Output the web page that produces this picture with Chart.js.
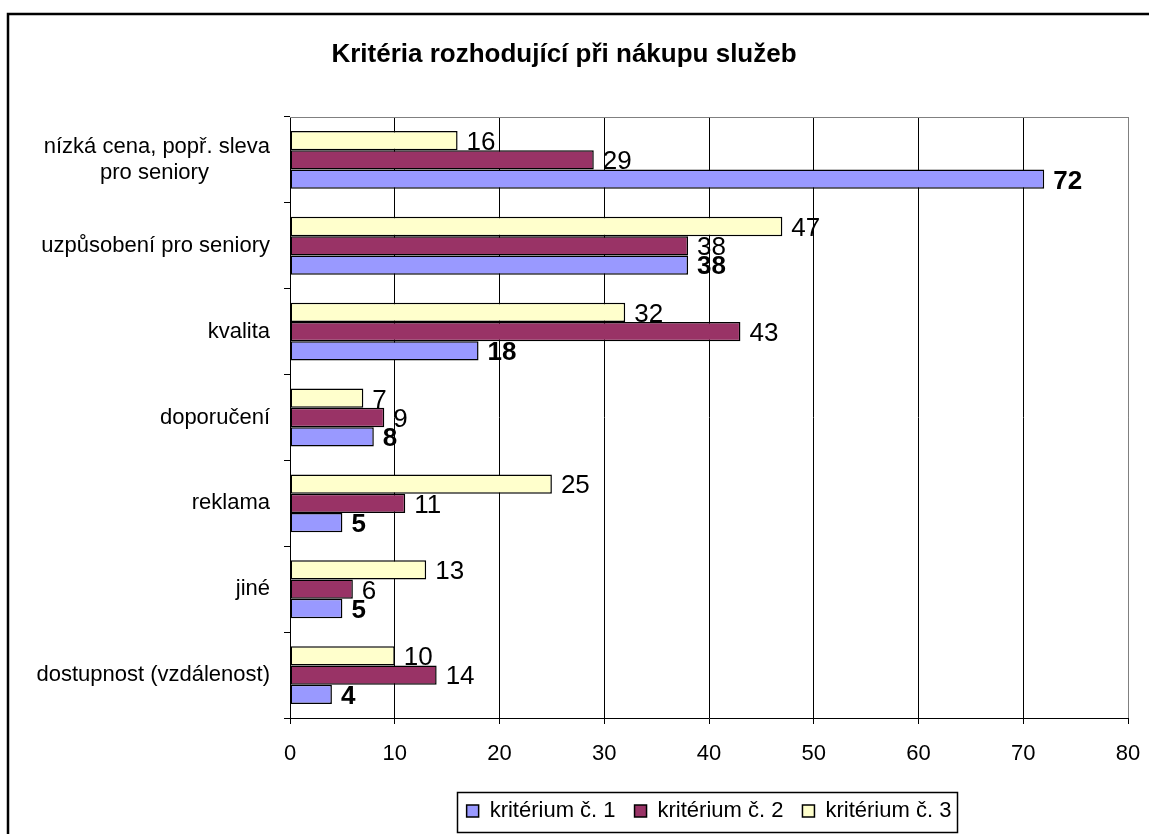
<!DOCTYPE html>
<html>
<head>
<meta charset="utf-8">
<title>Kritéria rozhodující při nákupu služeb</title>
<script src="https://cdn.jsdelivr.net/npm/chart.js@4.4.1/dist/chart.umd.min.js"></script>
<style>
    html, body { margin: 0; padding: 0; background: #ffffff; }
    #wrap { width: 1149px; height: 834px; }
</style>
</head>
<body>
<div id="wrap"><canvas id="criteriaChart" width="1149" height="834"></canvas></div>
<script>
// Chart data
const categories = [
    ['nízká cena, popř. sleva', 'pro seniory'],
    'uzpůsobení pro seniory',
    'kvalita',
    'doporučení',
    'reklama',
    'jiné',
    'dostupnost (vzdálenost)'
];
const seriesNames = ['kritérium č. 1', 'kritérium č. 2', 'kritérium č. 3'];
const kriterium1 = [72, 38, 18, 8, 5, 5, 4];
const kriterium2 = [29, 38, 43, 9, 11, 6, 14];
const kriterium3 = [16, 47, 32, 7, 25, 13, 10];
const seriesColors = ['#9999ff', '#993366', '#ffffcc'];
const xMin = 0;
const xMax = 80;
const xStep = 10;

const FONT = '"Liberation Sans", Arial, Helvetica, sans-serif';

// Centre the lines of a multi-line category label against each other
const measureCtx = document.createElement('canvas').getContext('2d');
measureCtx.font = '22px ' + FONT;
function centerLines(label) {
    if (!Array.isArray(label)) return label;
    const widths = label.map(l => measureCtx.measureText(l).width);
    const maxW = Math.max(...widths);
    const sp = measureCtx.measureText('\u00a0').width;
    return label.map((l, i) => l + '\u00a0'.repeat(Math.round((maxW - widths[i]) / 2 / sp)));
}

// Value labels at the end of each bar
const valueLabels = {
    id: 'valueLabels',
    afterDatasetsDraw(chart) {
        const ctx = chart.ctx;
        ctx.save();
        ctx.fillStyle = '#000000';
        ctx.textAlign = 'left';
        ctx.textBaseline = 'alphabetic';
        chart.data.datasets.forEach((ds, i) => {
            const meta = chart.getDatasetMeta(i);
            ctx.font = (ds.boldLabels ? 'bold ' : '') + '26px ' + FONT;
            meta.data.forEach((bar, j) => {
                ctx.fillText(String(ds.data[j]), bar.x + 9, bar.y + 9.3);
            });
        });
        ctx.restore();
    }
};

// Outer frame, plot area border and legend box
const frames = {
    id: 'frames',
    afterDraw(chart) {
        const ctx = chart.ctx;
        const area = chart.chartArea;
        ctx.save();

        // grey plot-area border (top and right)
        ctx.strokeStyle = '#808080';
        ctx.lineWidth = 1;
        ctx.beginPath();
        ctx.moveTo(area.left, area.top + 0.5);
        ctx.lineTo(area.right + 0.5, area.top + 0.5);
        ctx.lineTo(area.right + 0.5, area.bottom);
        ctx.stroke();

        // chart frame
        ctx.strokeStyle = '#000000';
        ctx.lineWidth = 2.5;
        ctx.strokeRect(8, 14, chart.width + 20, chart.height + 20);

        // legend border
        const boxes = chart.legend.legendHitBoxes;
        if (boxes && boxes.length) {
            const first = boxes[0];
            const last = boxes[boxes.length - 1];
            const cy = first.top + first.height / 2;
            const left = Math.round(first.left - 10) + 0.5;
            const right = Math.round(last.left + last.width + 6) + 0.5;
            ctx.lineWidth = 1.5;
            ctx.strokeRect(left, Math.round(cy - 19) + 0.5, right - left, 40);
        }
        ctx.restore();
    }
};

const ctx = document.getElementById('criteriaChart').getContext('2d');

const criteriaChart = new Chart(ctx, {
    type: 'bar',
    data: {
        labels: categories,
        // top-to-bottom inside a group: č. 3, č. 2, č. 1
        datasets: [
            {
                label: seriesNames[2],
                data: kriterium3,
                backgroundColor: seriesColors[2],
                borderColor: '#000000',
                borderWidth: 1.5,
                borderSkipped: false
            },
            {
                label: seriesNames[1],
                data: kriterium2,
                backgroundColor: seriesColors[1],
                borderColor: '#000000',
                borderWidth: 1.5,
                borderSkipped: false
            },
            {
                label: seriesNames[0],
                data: kriterium1,
                backgroundColor: seriesColors[0],
                borderColor: '#000000',
                borderWidth: 1.5,
                borderSkipped: false,
                boldLabels: true
            }
        ]
    },
    options: {
        indexAxis: 'y',
        responsive: false,
        devicePixelRatio: 1,
        animation: false,
        events: [],
        barPercentage: 1,
        categoryPercentage: 0.674,
        layout: {
            padding: { left: 0, right: 21, top: 0, bottom: 2 }
        },
        scales: {
            x: {
                min: xMin,
                max: xMax,
                afterFit: (scale) => {
                    scale.height = 63;
                    scale.paddingRight = 0;
                    scale.paddingLeft = 0;
                },
                ticks: {
                    stepSize: xStep,
                    padding: 17,
                    color: '#000000',
                    font: { size: 22, family: FONT }
                },
                grid: {
                    color: (c) => (c.tick && c.tick.value === xMax ? '#808080' : '#000000'),
                    tickColor: '#000000',
                    tickLength: 6,
                    lineWidth: 1
                },
                border: { color: '#000000', width: 1 }
            },
            y: {
                afterFit: (scale) => { scale.width = 290; },
                ticks: {
                    padding: 14,
                    color: '#000000',
                    font: { size: 22, family: FONT },
                    callback: function(value) {
                        return centerLines(this.getLabelForValue(value));
                    }
                },
                grid: {
                    offset: true,
                    drawOnChartArea: false,
                    drawTicks: true,
                    tickLength: 6,
                    color: '#000000'
                },
                border: { color: '#000000', width: 1 }
            }
        },
        plugins: {
            title: {
                display: true,
                text: 'Kritéria rozhodující při nákupu služeb',
                color: '#000000',
                font: { size: 26, weight: 'bold', family: FONT },
                padding: { top: 39.4, bottom: 46.4 }
            },
            legend: {
                position: 'bottom',
                fullSize: false,
                reverse: true,
                labels: {
                    color: '#000000',
                    font: { size: 22, family: FONT },
                    boxWidth: 12,
                    boxHeight: 12,
                    padding: 19
                }
            },
            tooltip: { enabled: false }
        }
    },
    plugins: [valueLabels, frames]
});
</script>
</body>
</html>
